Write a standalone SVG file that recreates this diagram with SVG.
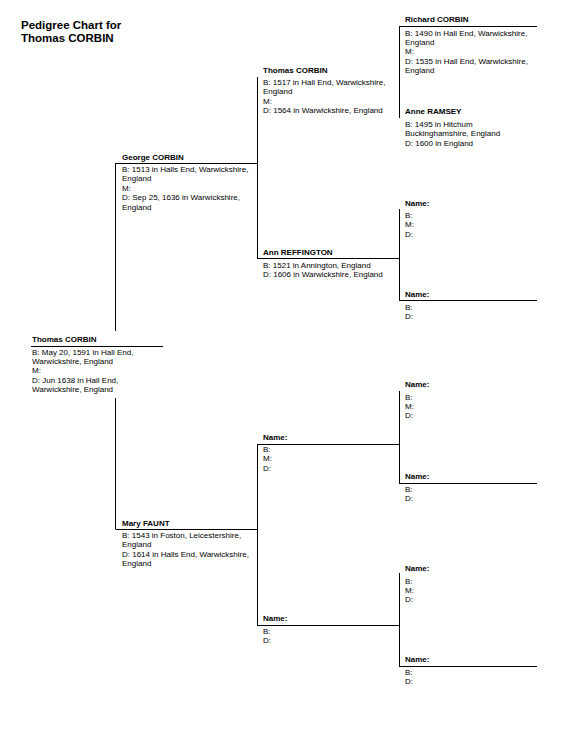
<svg xmlns="http://www.w3.org/2000/svg" width="572" height="746" viewBox="0 0 572 746">
<style>
text{font-family:"Liberation Sans",Arial,sans-serif;fill:#000}
.t{font-size:11.5px;font-weight:bold}
.n{font-size:8px;font-weight:bold}
.d{font-size:8px}
.ln{stroke:#000;stroke-width:1;fill:none}
</style>
<rect width="572" height="746" fill="#fff"/>
<g id="title"><text class="t" x="21" y="29">Pedigree Chart for</text><text class="t" x="21" y="42">Thomas CORBIN</text></g>
<g id="connectors" class="ln">
<path d="M31 346.5H163"/>
<path d="M115.5 163.5H257M115.5 529.5H257"/>
<path d="M115.5 163V331M115.5 398V529"/>
<path d="M257 258.5H399M257 444.5H399M257 625.5H399"/>
<path d="M257.5 77V258M257.5 444V625"/>
<path d="M399 26.5H537M399 300.5H537M399 483.5H537M399 666.5H537"/>
<path d="M399.5 26V118M399.5 209V300M399.5 391V483M399.5 573V666"/>
</g>
<g id="p1"><text class="n" x="32" y="342">Thomas CORBIN</text>
<text class="d" x="32" y="354.5">B: May 20, 1591 in Hall End,</text><text class="d" x="32" y="363.9">Warwickshire, England</text><text class="d" x="32" y="373.3">M:</text><text class="d" x="32" y="382.7">D: Jun 1638 in Hall End,</text><text class="d" x="32" y="392.1">Warwickshire, England</text></g>
<g id="p2"><text class="n" x="122" y="159.5">George CORBIN</text>
<text class="d" x="122" y="172">B: 1513 in Halls End, Warwickshire,</text><text class="d" x="122" y="181.4">England</text><text class="d" x="122" y="190.8">M:</text><text class="d" x="122" y="200.2">D: Sep 25, 1636 in Warwickshire,</text><text class="d" x="122" y="209.6">England</text></g>
<g id="p3"><text class="n" x="122" y="525.5">Mary FAUNT</text>
<text class="d" x="122" y="538">B: 1543 in Foston, Leicestershire,</text><text class="d" x="122" y="547.4">England</text><text class="d" x="122" y="556.8">D: 1614 in Halls End, Warwickshire,</text><text class="d" x="122" y="566.2">England</text></g>
<g id="p4"><text class="n" x="263" y="72.5">Thomas CORBIN</text>
<text class="d" x="263" y="85">B: 1517 in Hall End, Warwickshire,</text><text class="d" x="263" y="94.4">England</text><text class="d" x="263" y="103.8">M:</text><text class="d" x="263" y="113.2">D: 1564 in Warwickshire, England</text></g>
<g id="p5"><text class="n" x="263" y="255">Ann REFFINGTON</text>
<text class="d" x="263" y="267.5">B: 1521 in Annington, England</text><text class="d" x="263" y="276.9">D: 1606 in Warwickshire, England</text></g>
<g id="p6"><text class="n" x="263" y="439.5">Name:</text>
<text class="d" x="263" y="452">B:</text><text class="d" x="263" y="461.4">M:</text><text class="d" x="263" y="470.8">D:</text></g>
<g id="p7"><text class="n" x="263" y="621">Name:</text>
<text class="d" x="263" y="633.5">B:</text><text class="d" x="263" y="642.9">D:</text></g>
<g id="p8"><text class="n" x="405" y="22">Richard CORBIN</text>
<text class="d" x="405" y="35.5">B: 1490 in Hall End, Warwickshire,</text><text class="d" x="405" y="44.9">England</text><text class="d" x="405" y="54.3">M:</text><text class="d" x="405" y="63.7">D: 1535 in Hall End, Warwickshire,</text><text class="d" x="405" y="73.1">England</text></g>
<g id="p9"><text class="n" x="405" y="114">Anne RAMSEY</text>
<text class="d" x="405" y="127">B: 1495 in Hitchum</text><text class="d" x="405" y="136.4">Buckinghamshire, England</text><text class="d" x="405" y="145.8">D: 1600 in England</text></g>
<g id="p10"><text class="n" x="405" y="206">Name:</text>
<text class="d" x="405" y="218">B:</text><text class="d" x="405" y="227.4">M:</text><text class="d" x="405" y="236.8">D:</text></g>
<g id="p11"><text class="n" x="405" y="297">Name:</text>
<text class="d" x="405" y="309.5">B:</text><text class="d" x="405" y="318.9">D:</text></g>
<g id="p12"><text class="n" x="405" y="387">Name:</text>
<text class="d" x="405" y="399.5">B:</text><text class="d" x="405" y="408.9">M:</text><text class="d" x="405" y="418.3">D:</text></g>
<g id="p13"><text class="n" x="405" y="479">Name:</text>
<text class="d" x="405" y="491.5">B:</text><text class="d" x="405" y="500.9">D:</text></g>
<g id="p14"><text class="n" x="405" y="571">Name:</text>
<text class="d" x="405" y="583.5">B:</text><text class="d" x="405" y="592.9">M:</text><text class="d" x="405" y="602.3">D:</text></g>
<g id="p15"><text class="n" x="405" y="662">Name:</text>
<text class="d" x="405" y="674.5">B:</text><text class="d" x="405" y="683.9">D:</text></g>
</svg>
